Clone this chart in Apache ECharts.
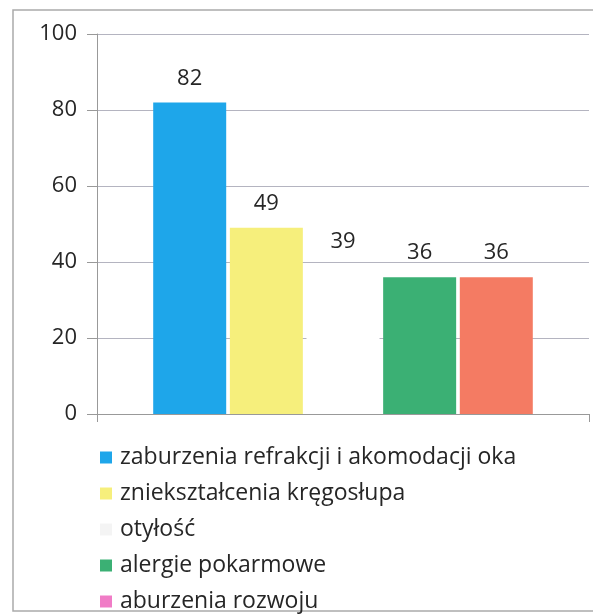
<!DOCTYPE html>
<html>
<head>
<meta charset="utf-8">
<script src="https://cdn.jsdelivr.net/npm/echarts@6/dist/echarts.min.js"></script>
<style>
  html, body { margin: 0; padding: 0; background: #fff; }
  #chart { width: 593px; height: 616px; }
</style>
</head>
<body>
<div id="chart"></div>
<script>
// data
var seriesNames = [
  'zaburzenia refrakcji i akomodacji oka',
  'zniekształcenia kręgosłupa',
  'otyłość',
  'alergie pokarmowe',
  'aburzenia rozwoju'
]
var seriesValues = [82, 49, 39, 36, 36]
var barColors = ['#1ea6ea', '#f6ef7c', '#ffffff', '#3bb074', '#f47b63']
var legendColors = ['#1ea6ea', '#f6ef7c', '#f4f4f4', '#3bb074', '#f07cc6']

var chart = echarts.init(document.getElementById('chart'))

var series = seriesNames.map(function (name, i) {
  return {
    name: name,
    type: 'bar',
    data: [seriesValues[i]],
    barWidth: 73,
    barGap: '5%',
    itemStyle: { color: barColors[i] },
    label: {
      show: true,
      position: 'top',
      distance: 13,
      color: '#262626',
      fontSize: 22,
      fontFamily: 'Open Sans'
    }
  }
})

chart.setOption({
  animation: false,
  backgroundColor: '#fff',
  graphic: [{
    type: 'rect',
    shape: { x: 13, y: 10, width: 620, height: 601 },
    style: { fill: 'none', stroke: '#aaa', lineWidth: 1.5 },
    z: -1
  }],
  grid: { left: 97, right: 4, top: 34, bottom: 202 },
  legend: {
    orient: 'vertical',
    left: 100,
    top: 446,
    padding: 0,
    itemWidth: 12,
    itemHeight: 12,
    itemGap: 13,
    icon: 'rect',
    textStyle: { color: '#262626', fontSize: 23, fontFamily: 'Open Sans', padding: [0, 0, 0, 3] },
    data: seriesNames.map(function (n, i) {
      return { name: n, itemStyle: { color: legendColors[i] } }
    })
  },
  xAxis: {
    type: 'category',
    data: [''],
    axisLine: { lineStyle: { color: '#999' } },
    axisTick: { show: true, length: 8, lineStyle: { color: '#999' } },
    axisLabel: { show: false }
  },
  yAxis: {
    type: 'value',
    min: 0,
    max: 100,
    interval: 20,
    axisLine: { show: true, lineStyle: { color: '#999' } },
    axisTick: { show: true, length: 10, lineStyle: { color: '#999' } },
    axisLabel: { color: '#262626', fontSize: 22, fontFamily: 'Open Sans', margin: 20 },
    splitLine: { lineStyle: { color: '#b4b4c0' } }
  },
  series: series
})
</script>
</body>
</html>
